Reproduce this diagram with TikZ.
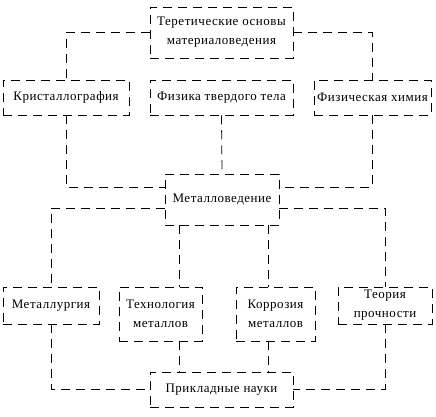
\documentclass[tikz,border=0pt]{standalone}
\usepackage{fontspec}
\setmainfont[LetterSpace=4]{Liberation Serif}
\usetikzlibrary{positioning}

\tikzset{
  box/.style={draw, line width=0.8pt, dash pattern=on 9pt off 6pt,
    align=center, inner sep=0pt, font=\fontsize{13}{19}\selectfont},
  link/.style={draw, line width=0.8pt, dash pattern=on 9pt off 6pt}
}

\begin{document}
\begin{tikzpicture}[x=1pt, y=-1pt]
\useasboundingbox (0,0) rectangle (436,417);
% top level
\node[box, minimum width=143pt, minimum height=51pt] (teor) at (221.5,32.5) {Теретические основы\\материаловедения};
% sciences
\node[box, minimum width=126pt, minimum height=35pt] (krist) at (66,97.5) {Кристаллография};
\node[box, minimum width=143pt, minimum height=35pt] (fiztv) at (221.5,97.5) {Физика твердого тела};
\node[box, minimum width=117pt, minimum height=35pt] (fizkh) at (372.5,97.5) {Физическая химия};
% centre
\node[box, minimum width=114pt, minimum height=51pt] (metved) at (222,199.5) {Металловедение};
% applied
\node[box, minimum width=96pt, minimum height=37pt] (metlur) at (51,305.5) {Металлургия};
\node[box, minimum width=83pt, minimum height=54pt] (tekh) at (160.5,314) {Технология\\металлов};
\node[box, minimum width=79pt, minimum height=54pt] (korr) at (275.5,314) {Коррозия\\металлов};
\node[box, minimum width=94pt, minimum height=37pt] (proch) at (385,305.5) {Теория\\прочности};
\node[box, minimum width=143pt, minimum height=35pt] (prikl) at (221.5,389.5) {Прикладные науки};

\coordinate (m1) at ([xshift=-43pt]metved.south);
\coordinate (m2) at ([xshift=46pt]metved.south);

% links
\draw[link] (teor.west) -| (krist.north);
\draw[link] (teor.east) -| (fizkh.north);
\draw[link] (krist.south) |- ([yshift=12.5pt]metved.west);
\draw[link] (fiztv.south) -- (metved.north);
\draw[link] (fizkh.south) |- ([yshift=12.5pt]metved.east);
\draw[link] ([yshift=-8.5pt]metved.west) -| (metlur.north);
\draw[link] ([yshift=-8.5pt]metved.east) -| (proch.north);
\draw[link] (m1) -- (m1 |- tekh.north);
\draw[link] (m2) -- (m2 |- korr.north);
\draw[link] (m1 |- tekh.south) -- (m1 |- prikl.north);
\draw[link] (m2 |- korr.south) -- (m2 |- prikl.north);
\draw[link] (metlur.south) |- (prikl.west);
\draw[link] (proch.south) |- (prikl.east);
\end{tikzpicture}
\end{document}
